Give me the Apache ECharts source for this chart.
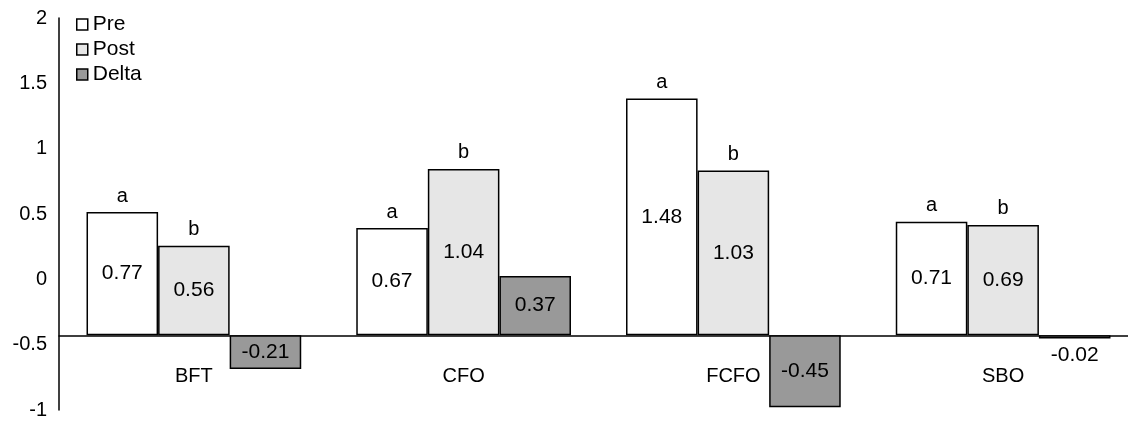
<!DOCTYPE html>
<html>
<head>
<meta charset="utf-8">
<script src="https://cdn.jsdelivr.net/npm/echarts@6/dist/echarts.min.js"></script>
<style>
  html, body { margin: 0; padding: 0; background: #fff; }
  #chart { width: 1128px; height: 421px; }
</style>
</head>
<body>
<div id="chart"></div>
<script>
const categories = ["BFT", "CFO", "FCFO", "SBO"];
const preValues = [0.77, 0.67, 1.48, 0.71];
const postValues = [0.56, 1.04, 1.03, 0.69];
const deltaValues = [-0.21, 0.37, -0.45, -0.02];
const preLetters = ["a", "a", "a", "a"];
const postLetters = ["b", "b", "b", "b"];
const yTickLabels = ["-1", "-0.5", "0", "0.5", "1", "1.5", "2"];

const FONT = "Liberation Sans, Arial, sans-serif";

const chart = echarts.init(document.getElementById("chart"));

const barBorder = { borderColor: "#000", borderWidth: 1.5 };

const valueLabel = {
  show: true,
  position: "inside",
  color: "#000",
  fontSize: 21,
  fontFamily: FONT,
};

// zero-height bar stacked on top, only to carry the letter above the bar
const letterSeries = (stack, letters) => ({
  type: "bar",
  name: stack + "-letter",
  stack: stack,
  data: letters.map(() => 0),
  itemStyle: { color: "transparent", borderWidth: 0 },
  label: {
    show: true,
    position: "top",
    distance: 6,
    color: "#000",
    fontSize: 20,
    fontFamily: FONT,
    formatter: (p) => letters[p.dataIndex],
  },
  silent: true,
});

const option = {
  animation: false,
  backgroundColor: "#fff",
  grid: {
    left: 59,
    top: 18,
    width: 1079,
    height: 392,
    outerBoundsMode: "none",
    containLabel: false,
  },
  legend: {
    data: ["Pre", "Post", "Delta"],
    orient: "vertical",
    left: 76,
    top: 14,
    icon: "rect",
    itemWidth: 11,
    itemHeight: 11,
    itemGap: 4,
    padding: 0,
    itemStyle: { borderColor: "#000", borderWidth: 1.5 },
    textStyle: { fontSize: 21, fontFamily: FONT, color: "#000" },
  },
  xAxis: {
    type: "category",
    data: categories,
    axisLine: {
      onZero: true,
      onZeroAxisIndex: 0,
      lineStyle: { color: "#000", width: 1.5 },
    },
    axisTick: { show: false },
    axisLabel: { margin: -44, fontSize: 20, fontFamily: FONT, color: "#000" },
  },
  yAxis: [
    {
      type: "value",
      show: false,
      min: -0.467,
      max: 1.983,
      splitLine: { show: false },
    },
    {
      type: "value",
      position: "left",
      min: -1,
      max: 2,
      interval: 0.5,
      axisLine: { show: true, lineStyle: { color: "#000", width: 1.5 } },
      axisTick: { show: false },
      splitLine: { show: false },
      axisLabel: {
        margin: 12,
        fontSize: 20,
        fontFamily: FONT,
        color: "#000",
        formatter: (v) => yTickLabels[Math.round((v + 1) / 0.5)],
      },
    },
  ],
  series: [
    {
      type: "bar",
      name: "Pre",
      stack: "pre",
      data: preValues,
      itemStyle: Object.assign({ color: "#ffffff" }, barBorder),
      label: valueLabel,
    },
    letterSeries("pre", preLetters),
    {
      type: "bar",
      name: "Post",
      stack: "post",
      data: postValues,
      itemStyle: Object.assign({ color: "#e6e6e6" }, barBorder),
      label: valueLabel,
    },
    letterSeries("post", postLetters),
    {
      type: "bar",
      name: "Delta",
      data: deltaValues.map((v) =>
        Math.abs(v) < 0.1
          ? { value: v, label: { position: "outside", distance: 6 } }
          : v
      ),
      itemStyle: Object.assign({ color: "#999999" }, barBorder),
      label: valueLabel,
      barGap: "0%",
      barCategoryGap: "20.4%",
    },
  ],
};

chart.setOption(option);
</script>
</body>
</html>
